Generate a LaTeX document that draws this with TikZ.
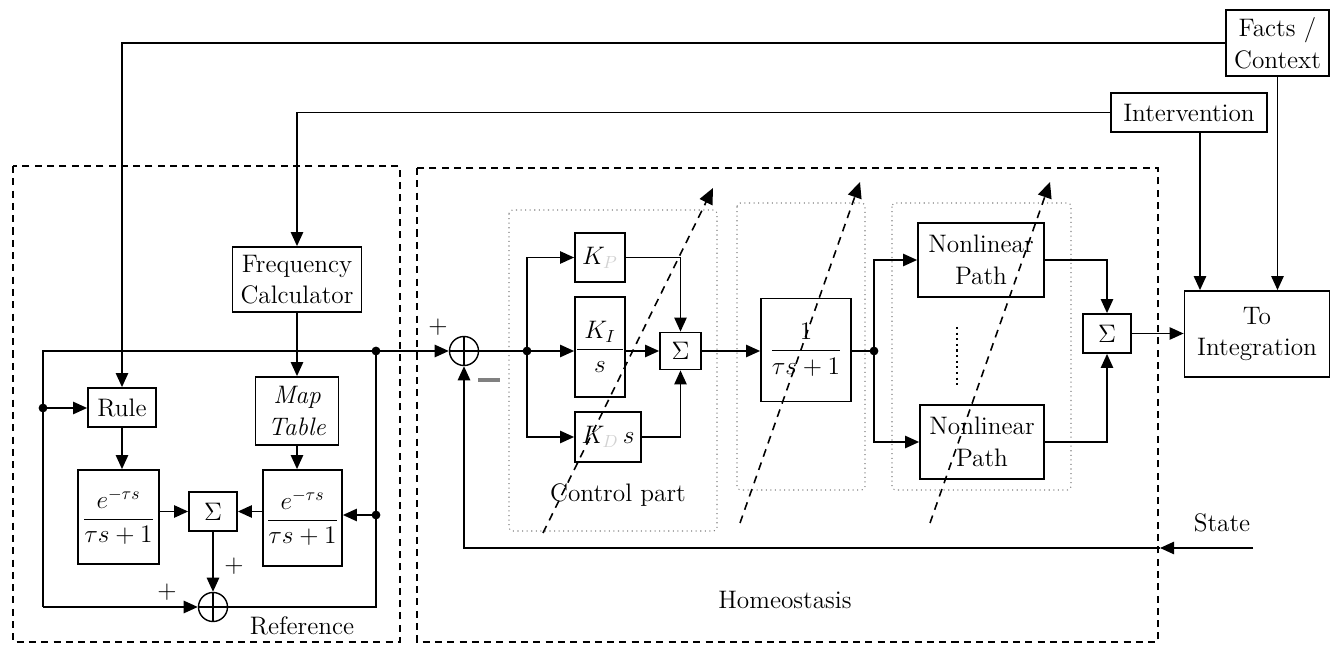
\documentclass[tikz,border=0pt]{standalone}
\usepackage{amsmath}
\usetikzlibrary{arrows.meta}
\begin{document}
\begin{tikzpicture}[x=0.02cm,y=-0.02cm,font=\Large,
  blk/.style={draw,line width=1pt,inner sep=0pt,align=center},
  ln/.style={line width=1pt},
  arr/.style={line width=1pt,-{Triangle[length=8pt,width=7pt]}},
  jdot/.style={circle,fill,inner sep=0pt,minimum size=5pt},
  sumc/.style={circle,draw,line width=0.8pt,inner sep=0pt,minimum size=0.58cm},
  frame/.style={line width=0.9pt,dash pattern=on 4pt off 3pt},
  part/.style={draw=gray,line width=0.6pt,dotted,rounded corners=2pt},
  diag/.style={line width=0.9pt,dash pattern=on 4.5pt off 3.5pt,-{Triangle[length=9pt,width=8pt]}},
  lbl/.style={inner sep=0pt}]
\useasboundingbox (0,0) rectangle (1333,645);

% frames
\draw[frame] (13,166) rectangle (400,642);
\draw[frame] (417,168) rectangle (1158,642);
\draw[part] (509,210) rectangle (717,531);
\draw[part] (737,203) rectangle (865,490);
\draw[part] (892,203) rectangle (1071,490);

% top boxes
\node[blk,minimum width=2.06cm,minimum height=1.32cm] (facts) at (1277.5,43) {Facts /\\Context};
\node[blk,minimum width=3.12cm,minimum height=0.78cm] (interv) at (1189,112.5) {Intervention};

% reference part
\node[blk,minimum width=1.36cm,minimum height=0.78cm] (rule) at (122,407.5) {Rule};
\node[blk,minimum width=2.58cm,minimum height=1.30cm] (freq) at (297,279.5) {Frequency\\Calculator};
\node[blk,minimum width=1.66cm,minimum height=1.36cm] (map) at (297,411) {\textit{Map}\\\textit{Table}};
\node[blk,minimum width=1.62cm,minimum height=1.88cm] (dl) at (118.5,517) {$\dfrac{e^{-\tau s}}{\tau s+1}$};
\node[blk,minimum width=1.58cm,minimum height=1.92cm] (dr) at (302.5,518) {$\dfrac{e^{-\tau s}}{\tau s+1}$};
\node[blk,minimum width=0.96cm,minimum height=0.78cm] (sigL) at (213,511.5) {$\Sigma$};
\node[sumc] (circL) at (213,607) {};
\draw[line width=0.8pt] (circL.north) -- (circL.south) (circL.west) -- (circL.east);

% homeostasis part
\node[sumc] (mc) at (464,351) {};
\draw[line width=0.8pt] (mc.north) -- (mc.south) (mc.west) -- (mc.east);
\node[blk,minimum width=1.0cm,minimum height=0.98cm] (kp) at (600,257.5) {$K_{\textcolor{gray!35}{P}}$};
\node[blk,minimum width=1.0cm,minimum height=2.0cm] (ki) at (600,347) {$\dfrac{\;K_I\;}{\;s\;}$};
\node[blk,minimum width=1.32cm,minimum height=1.0cm] (kd) at (608,437) {$K_{\textcolor{gray!35}{D}}\,s$};
\node[blk,minimum width=0.82cm,minimum height=0.74cm] (sigC) at (680.5,351) {$\Sigma$};
\node[blk,minimum width=1.8cm,minimum height=2.06cm] (tf) at (806,350) {$\dfrac{1}{\tau s+1}$};
\node[blk,minimum width=2.52cm,minimum height=1.48cm] (np1) at (981,260) {Nonlinear\\Path};
\node[blk,minimum width=2.48cm,minimum height=1.48cm] (np2) at (982,442) {Nonlinear\\Path};
\node[blk,minimum width=0.96cm,minimum height=0.78cm] (sigR) at (1107,333.5) {$\Sigma$};
\node[blk,minimum width=2.9cm,minimum height=1.72cm] (integ) at (1257,334) {To\\Integration};

% coordinates
\coordinate (lt) at (43,351);
\coordinate (lb) at (43,607);
\coordinate (rt) at (376,351);
\coordinate (rb) at (376,607);
\coordinate (ld) at (43,408);
\coordinate (rd) at (376,515);
\coordinate (b1) at (527,351);
\coordinate (b2) at (874,351);
\coordinate (ix) at (1200,0);
\coordinate (st) at (1253,548);
\coordinate (sth) at (1160,548);
\coordinate (d1a) at (543,533); \coordinate (d1b) at (713,188);
\coordinate (d2a) at (740,523); \coordinate (d2b) at (860,182);
\coordinate (d3a) at (930,523); \coordinate (d3b) at (1050,182);
\coordinate (vd1) at (957,327); \coordinate (vd2) at (957,387);

% top feeds
\draw[arr] (facts.west) -| (rule.north);
\draw[arr] (interv.west) -| (freq.north);
\draw[arr] (interv.south -| ix) -- (integ.north -| ix);
\draw[arr] (facts.south) -- (facts.south |- integ.north);

% reference connectors
\draw[arr] (freq.south) -- (map.north);
\draw[arr] (rule.south) -- (rule.south |- dl.north);
\draw[arr] (map.south) -- (map.south |- dr.north);
\draw[arr] (dl.east |- sigL.west) -- (sigL.west);
\draw[arr] (dr.west |- sigL.east) -- (sigL.east);
\draw[arr] (sigL.south) -- (circL.north);
\draw[ln] (rt) -- (lt) -- (lb);
\draw[arr] (lb) -- (circL.west);
\draw[ln] (circL.east) -- (rb) -- (rt);
\draw[arr] (ld) -- (ld -| rule.west);
\draw[arr] (rd) -- (rd -| dr.east);
\node[jdot] at (rt) {};
\node[jdot] at (ld) {};
\node[jdot] at (rd) {};

% main loop
\draw[arr] (rt) -- (mc.west);
\draw[ln] (mc.east) -- (b1);
\draw[arr] (b1) -- (b1 -| ki.west);
\draw[arr] (b1) |- (kp.west);
\draw[arr] (b1) |- (kd.west);
\node[jdot] at (b1) {};
\draw[arr] (kp.east) -| (sigC.north);
\draw[arr] (kd.east) -| (sigC.south);
\draw[arr] (ki.east |- sigC.west) -- (sigC.west);
\draw[arr] (sigC.east) -- (sigC.east -| tf.west);
\draw[ln] (tf.east |- b2) -- (b2);
\draw[arr] (b2) |- (np1.west);
\draw[arr] (b2) |- (np2.west);
\node[jdot] at (b2) {};
\draw[arr] (np1.east) -| (sigR.north);
\draw[arr] (np2.east) -| (sigR.south);
\draw[arr] (sigR.east) -- (sigR.east -| integ.west);
\draw[arr] (st) -- (sth);
\draw[arr] (sth) -| (mc.south);

% dashed diagonal arrows
\draw[diag] (d1a) -- (d1b);
\draw[diag] (d2a) -- (d2b);
\draw[diag] (d3a) -- (d3b);
\draw[line width=1.2pt,dotted] (vd1) -- (vd2);

% labels
\node[lbl] (pm1) at (438,327) {$+$};
\node[lbl] (mm1) at (489,380) {\textcolor{gray}{\rule{12pt}{2pt}}};
\node[lbl] (pl1) at (234,566) {$+$};
\node[lbl] (pl2) at (167,592) {$+$};
\node[lbl] (reflbl) at (302,626) {Reference};
\node[lbl] (ctrl) at (618,495) {Control part};
\node[lbl] (homeo) at (785,600) {Homeostasis};
\node[lbl] (state) at (1222,523) {State};
\end{tikzpicture}
\end{document}
